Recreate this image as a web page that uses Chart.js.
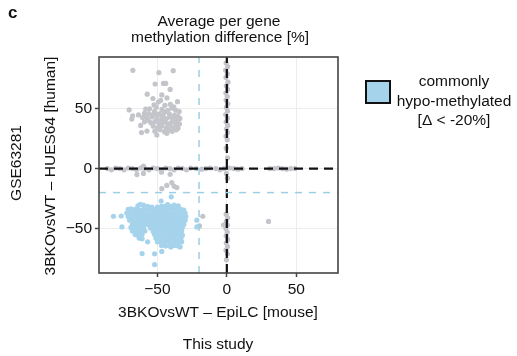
<!DOCTYPE html>
<html>
<head>
<meta charset="utf-8">
<script src="https://cdn.jsdelivr.net/npm/chart.js@4"></script>
<style>
  html, body { margin: 0; padding: 0; background: #fff; }
  #wrap { position: relative; width: 517px; height: 356px; }
</style>
</head>
<body>
<div id="wrap"><canvas id="methChart" width="517" height="356"></canvas></div>
<script>
// per gene differences [x = mouse EpiLC, y = human HUES64]
const greyUpper = [
  [-67.6, 81.9], [-48.9, 80], [-38.6, 81.6], [-51.6, 70.5], [-45.6, 71], [-44, 71],
  [-40.8, 66], [-57.3, 62], [-46.8, 61.4], [-70.3, 48.9], [-67.8, 44], [-68.4, 41.3],
  [-63.6, 44.7], [-59.3, 46], [-59.3, 39], [-61.4, 30], [-57.5, 31.3], [-50.4, 28],
  [-43.2, 29.4], [-35.5, 55.8], [-34.3, 47.5], [-62, 36], [-58.4, 49.6], [-53.2, 58.4],
  [-47.6, 56.8], [-43.1, 58.9], [-52.4, 53.1], [-49.3, 55.4], [-44.6, 52.7], [-40.7, 53.6],
  [-38.2, 51.4], [-55.6, 49.8], [-50.8, 51.2], [-46.7, 49.3], [-42.5, 48.6], [-39.6, 50.4],
  [-36.8, 48.7], [-56.3, 45.8], [-52.1, 47.4], [-48.4, 45.6], [-44.8, 46.9], [-41.3, 45.4],
  [-37.6, 44.6], [-35.2, 43.5], [-57.4, 42.2], [-53.8, 43.1], [-50.2, 41.6], [-46.6, 42.8],
  [-43.5, 41.7], [-40.6, 42.9], [-37.9, 41.2], [-35.4, 40.6], [-54.7, 38.3], [-51.6, 39.2],
  [-48.7, 37.6], [-45.5, 38.8], [-42.8, 37.4], [-39.7, 38.6], [-36.6, 37.8], [-34.1, 37.2],
  [-52.9, 35.3], [-49.6, 34.2], [-46.8, 35.6], [-43.7, 33.8], [-40.9, 35.1], [-37.8, 34.4],
  [-35.1, 33.6], [-51.8, 31.2], [-48.2, 32.4], [-44.9, 30.8], [-42.1, 32.2], [-39.3, 31.1],
  [-36.4, 32.3], [-47.1, 39.9], [-41.8, 36.1], [-38.7, 39.7], [-45.9, 44.3], [-53.1, 45.1],
  [-56.7, 40.3], [-60.6, 42.5], [-36.1, 35.2], [-33.8, 41.8], [-49.9, 44.9]
];
const greyRow = [
  [-86, 0], [-83, -1], [-80, 0.5], [-77, 0], [-74, -1], [-71, 0.5], [-68, 0], [-65, -1],
  [-62, 0.5], [-60, 2], [-59, 0], [-56, -1], [-53, 0.5], [-50, 0], [-47, -1], [-44, 0.5],
  [-41, 0], [-38, -1], [-35, 0.5], [-32, 0], [-29, -1], [-26, 0.5], [-22, 0], [-18, -0.5],
  [-15, 0], [-12, 0.5], [-8, 0], [-5, -1], [-2, 0], [2, 0.5], [5, 0], [8, -0.5], [11, 0],
  [31, 0], [34, 0], [37, 0.5], [40, 0], [43, -0.5], [46, 0], [49, 0],
  [-64.7, -5], [-60, -4], [-47, -3], [-40.8, -4.8]
];
const greyColumn = [
  [-0.5, 88], [0.6, 85], [-0.8, 82], [0.4, 79], [-0.6, 76], [0.8, 72], [-0.4, 69],
  [0.5, 66], [-0.7, 63], [0.3, 60], [-0.5, 57], [0.7, 54], [-0.3, 51], [0.5, 48],
  [-0.8, 45], [0.4, 42], [-0.5, 39], [0.6, 36], [-0.3, 33], [0.5, 30], [-0.6, 27],
  [0.3, 24], [-0.4, 17], [0.5, 9], [-0.3, -4], [0.4, -8], [-0.5, -38], [0.6, -41],
  [-0.4, -44], [0.5, -47], [-0.7, -50], [0.3, -53], [-0.5, -56], [0.6, -59],
  [-0.4, -62], [0.5, -65], [-0.6, -68], [0.4, -71], [-0.3, -76]
];
const greyOther = [
  [-46.8, -16.7], [-43.2, -14], [-39.6, -11.7], [-37.9, -14.8], [-36, -15.8],
  [-17.3, -39.7], [-19.7, -47.8], [-2.4, -47], [30, -44]
];
const blueHypo = [
  [-64, -31], [-60, -30.5], [-57, -31.5], [-54, -32], [-50, -32], [-47, -31.5], [-44, -31],
  [-41, -31.5], [-38, -30.5], [-35, -31], [-62.3, -29.8], [-42.6, -29.9],
  [-71, -34], [-69, -33.5], [-66, -34], [-63, -34.5], [-60, -34], [-57, -34], [-54, -34.5],
  [-51, -34], [-48, -34], [-45, -34.5], [-42, -34], [-39, -34], [-36, -33.5], [-33, -34], [-31, -34.5],
  [-72, -37], [-69, -37], [-66, -37.5], [-63, -37], [-60, -37], [-57, -37.5], [-54, -37],
  [-51, -37], [-48, -37.5], [-45, -37], [-42, -37], [-39, -37.5], [-36, -37], [-33, -37], [-30, -37],
  [-71, -40], [-68, -40.5], [-65, -40], [-62, -40], [-59, -40.5], [-56, -40], [-53, -40],
  [-50, -40.5], [-47, -40], [-44, -40], [-41, -40.5], [-38, -40], [-35, -40], [-32, -40.5], [-29.5, -40],
  [-70, -43], [-67, -43.5], [-64, -43], [-61, -43], [-58, -43.5], [-55, -43], [-52, -43],
  [-49, -43.5], [-46, -43], [-43, -43], [-40, -43.5], [-37, -43], [-34, -43], [-31, -43.5],
  [-68, -46], [-66, -46.5], [-63, -46], [-60, -46], [-57, -46.5], [-54, -46], [-51, -46],
  [-48, -46.5], [-45, -46], [-42, -46], [-39, -46.5], [-36, -46], [-33, -46], [-31, -46.5],
  [-69, -49], [-66, -49.5], [-63, -49], [-60, -49], [-55, -49.5], [-52, -49], [-49, -49],
  [-46, -49.5], [-43, -49], [-40, -49], [-37, -49.5], [-34, -49], [-32, -49],
  [-68, -52], [-65, -52.5], [-62, -52], [-59, -52], [-53, -52.5], [-50, -52], [-47, -52],
  [-44, -52.5], [-41, -52], [-38, -52], [-35, -52.5], [-32.5, -52],
  [-66, -55], [-64, -55.5], [-61, -55], [-52, -55], [-49, -55.5], [-46, -55], [-43, -55],
  [-40, -55.5], [-37, -55], [-34, -55], [-32, -55.5],
  [-63, -58], [-61, -58.5], [-51, -58], [-48, -58], [-45, -58.5], [-42, -58], [-39, -58],
  [-36, -58.5], [-33, -58],
  [-50, -61], [-47, -61.5], [-44, -61], [-41, -61], [-38, -61.5], [-35, -61], [-32.5, -61],
  [-47, -64], [-44, -64.5], [-41, -64], [-38, -64], [-35, -64.5],
  [-47.3, -27], [-40, -23.5], [-81.6, -39.7], [-76, -39.5], [-75.5, -48.6], [-61, -70.8],
  [-52, -71], [-52, -80], [-46.8, -69], [-40.3, -65.3], [-33.6, -65.3], [-30, -43],
  [-21.6, -43], [-21.6, -48.6], [-57, -61]
];

const xRange = [-92, 80];
const yRange = [-87, 93];
const xTicks = [-50, 0, 50];
const yTicks = [-50, 0, 50];
const tickLabels = { "-50": "\u221250", "0": "0", "50": "50" };
const cutoff = -20;

const titleLines = ["Average per gene", "methylation difference [%]"];
const xTitle = "3BKOvsWT \u2013 EpiLC [mouse]";
const yTitle = "3BKOvsWT \u2013 HUES64 [human]";
const yGroup = "GSE63281";
const footNote = "This study";
const legendLines = ["commonly", "hypo-methylated", "[\u0394 < -20%]"];

const greyCol = "#c3c5ca";
const blueCol = "#a6d3ec";
const fontName = "'Liberation Sans', Arial, sans-serif";

function toPts(arr) {
    return arr.map(p => ({ x: p[0], y: p[1] }));
}

function refLine(pts, colour, width, dash) {
    return {
        type: "line",
        data: pts,
        borderColor: colour,
        borderWidth: width,
        borderDash: dash,
        pointRadius: 0,
        fill: false,
        clip: 0,
        order: 1
    };
}

function dots(arr, colour, ord) {
    return {
        type: "scatter",
        data: toPts(arr),
        backgroundColor: colour,
        borderWidth: 0,
        pointRadius: 2.6,
        clip: 0,
        order: ord
    };
}

const annotate = {
    id: "annotate",
    afterDraw(chart) {
        const c = chart.ctx;
        const a = chart.chartArea;
        c.save();
        c.strokeStyle = "#444";
        c.lineWidth = 1.6;
        c.strokeRect(a.left, a.top, a.right - a.left, a.bottom - a.top);

        c.fillStyle = "#111";
        c.font = "bold 17px " + fontName;
        c.textAlign = "left";
        c.textBaseline = "alphabetic";
        c.fillText("c", 8, 18);

        c.font = "15.5px " + fontName;
        c.textAlign = "center";
        c.fillText(titleLines[0], 219, 26);
        c.fillText(titleLines[1], 220, 42);
        c.fillText(xTitle, 218, 317);
        c.fillText(footNote, 218, 349);

        c.textBaseline = "middle";
        c.save();
        c.translate(51, 166);
        c.rotate(-Math.PI / 2);
        c.fillText(yTitle, 0, 0);
        c.restore();
        c.save();
        c.translate(17, 163);
        c.rotate(-Math.PI / 2);
        c.fillText(yGroup, 0, 0);
        c.restore();

        // legend
        c.fillStyle = blueCol;
        c.fillRect(366, 81, 24, 22);
        c.strokeStyle = "#111";
        c.lineWidth = 2;
        c.strokeRect(366, 81, 24, 22);
        c.fillStyle = "#111";
        c.textBaseline = "alphabetic";
        legendLines.forEach((t, i) => c.fillText(t, 454, 86 + i * 19.5));
        c.restore();
    }
};

const ctx = document.getElementById("methChart").getContext("2d");

new Chart(ctx, {
    data: {
        datasets: [
            dots(greyUpper, greyCol, 4),
            dots(greyRow, greyCol, 4),
            dots(greyColumn, greyCol, 4),
            dots(greyOther, greyCol, 4),
            dots(blueHypo, blueCol, 3),
            refLine([{ x: cutoff, y: yRange[0] }, { x: cutoff, y: yRange[1] }], "#9ccfe4", 1.5, [7, 7]),
            refLine([{ x: xRange[0], y: cutoff }, { x: xRange[1], y: cutoff }], "#9ccfe4", 1.5, [7, 7]),
            refLine([{ x: 0, y: yRange[0] }, { x: 0, y: yRange[1] }], "#111", 2.2, [9, 6]),
            refLine([{ x: xRange[0], y: 0 }, { x: xRange[1], y: 0 }], "#111", 2.2, [9, 6])
        ]
    },
    options: {
        responsive: false,
        animation: false,
        events: [],
        layout: { padding: { left: 0, top: 57, right: 179, bottom: 0 } },
        plugins: {
            legend: { display: false },
            tooltip: { enabled: false }
        },
        scales: {
            x: {
                type: "linear",
                min: xRange[0],
                max: xRange[1],
                afterBuildTicks: s => { s.ticks = xTicks.map(v => ({ value: v })); },
                afterFit: s => { s.height = 83; },
                grid: { color: "#ececec", lineWidth: 1, tickColor: "#444", tickWidth: 1.5, tickLength: 4 },
                border: { display: false },
                ticks: {
                    padding: 3,
                    color: "#111",
                    font: { family: fontName, size: 15.5 },
                    maxRotation: 0,
                    callback: v => tickLabels[String(v)]
                }
            },
            y: {
                type: "linear",
                min: yRange[0],
                max: yRange[1],
                afterBuildTicks: s => { s.ticks = yTicks.map(v => ({ value: v })); },
                afterFit: s => { s.width = 99; },
                grid: { color: "#ececec", lineWidth: 1, tickColor: "#444", tickWidth: 1.5, tickLength: 4 },
                border: { display: false },
                ticks: {
                    padding: 3,
                    color: "#111",
                    font: { family: fontName, size: 15.5 },
                    callback: v => tickLabels[String(v)]
                }
            }
        }
    },
    plugins: [annotate]
});
</script>
</body>
</html>
